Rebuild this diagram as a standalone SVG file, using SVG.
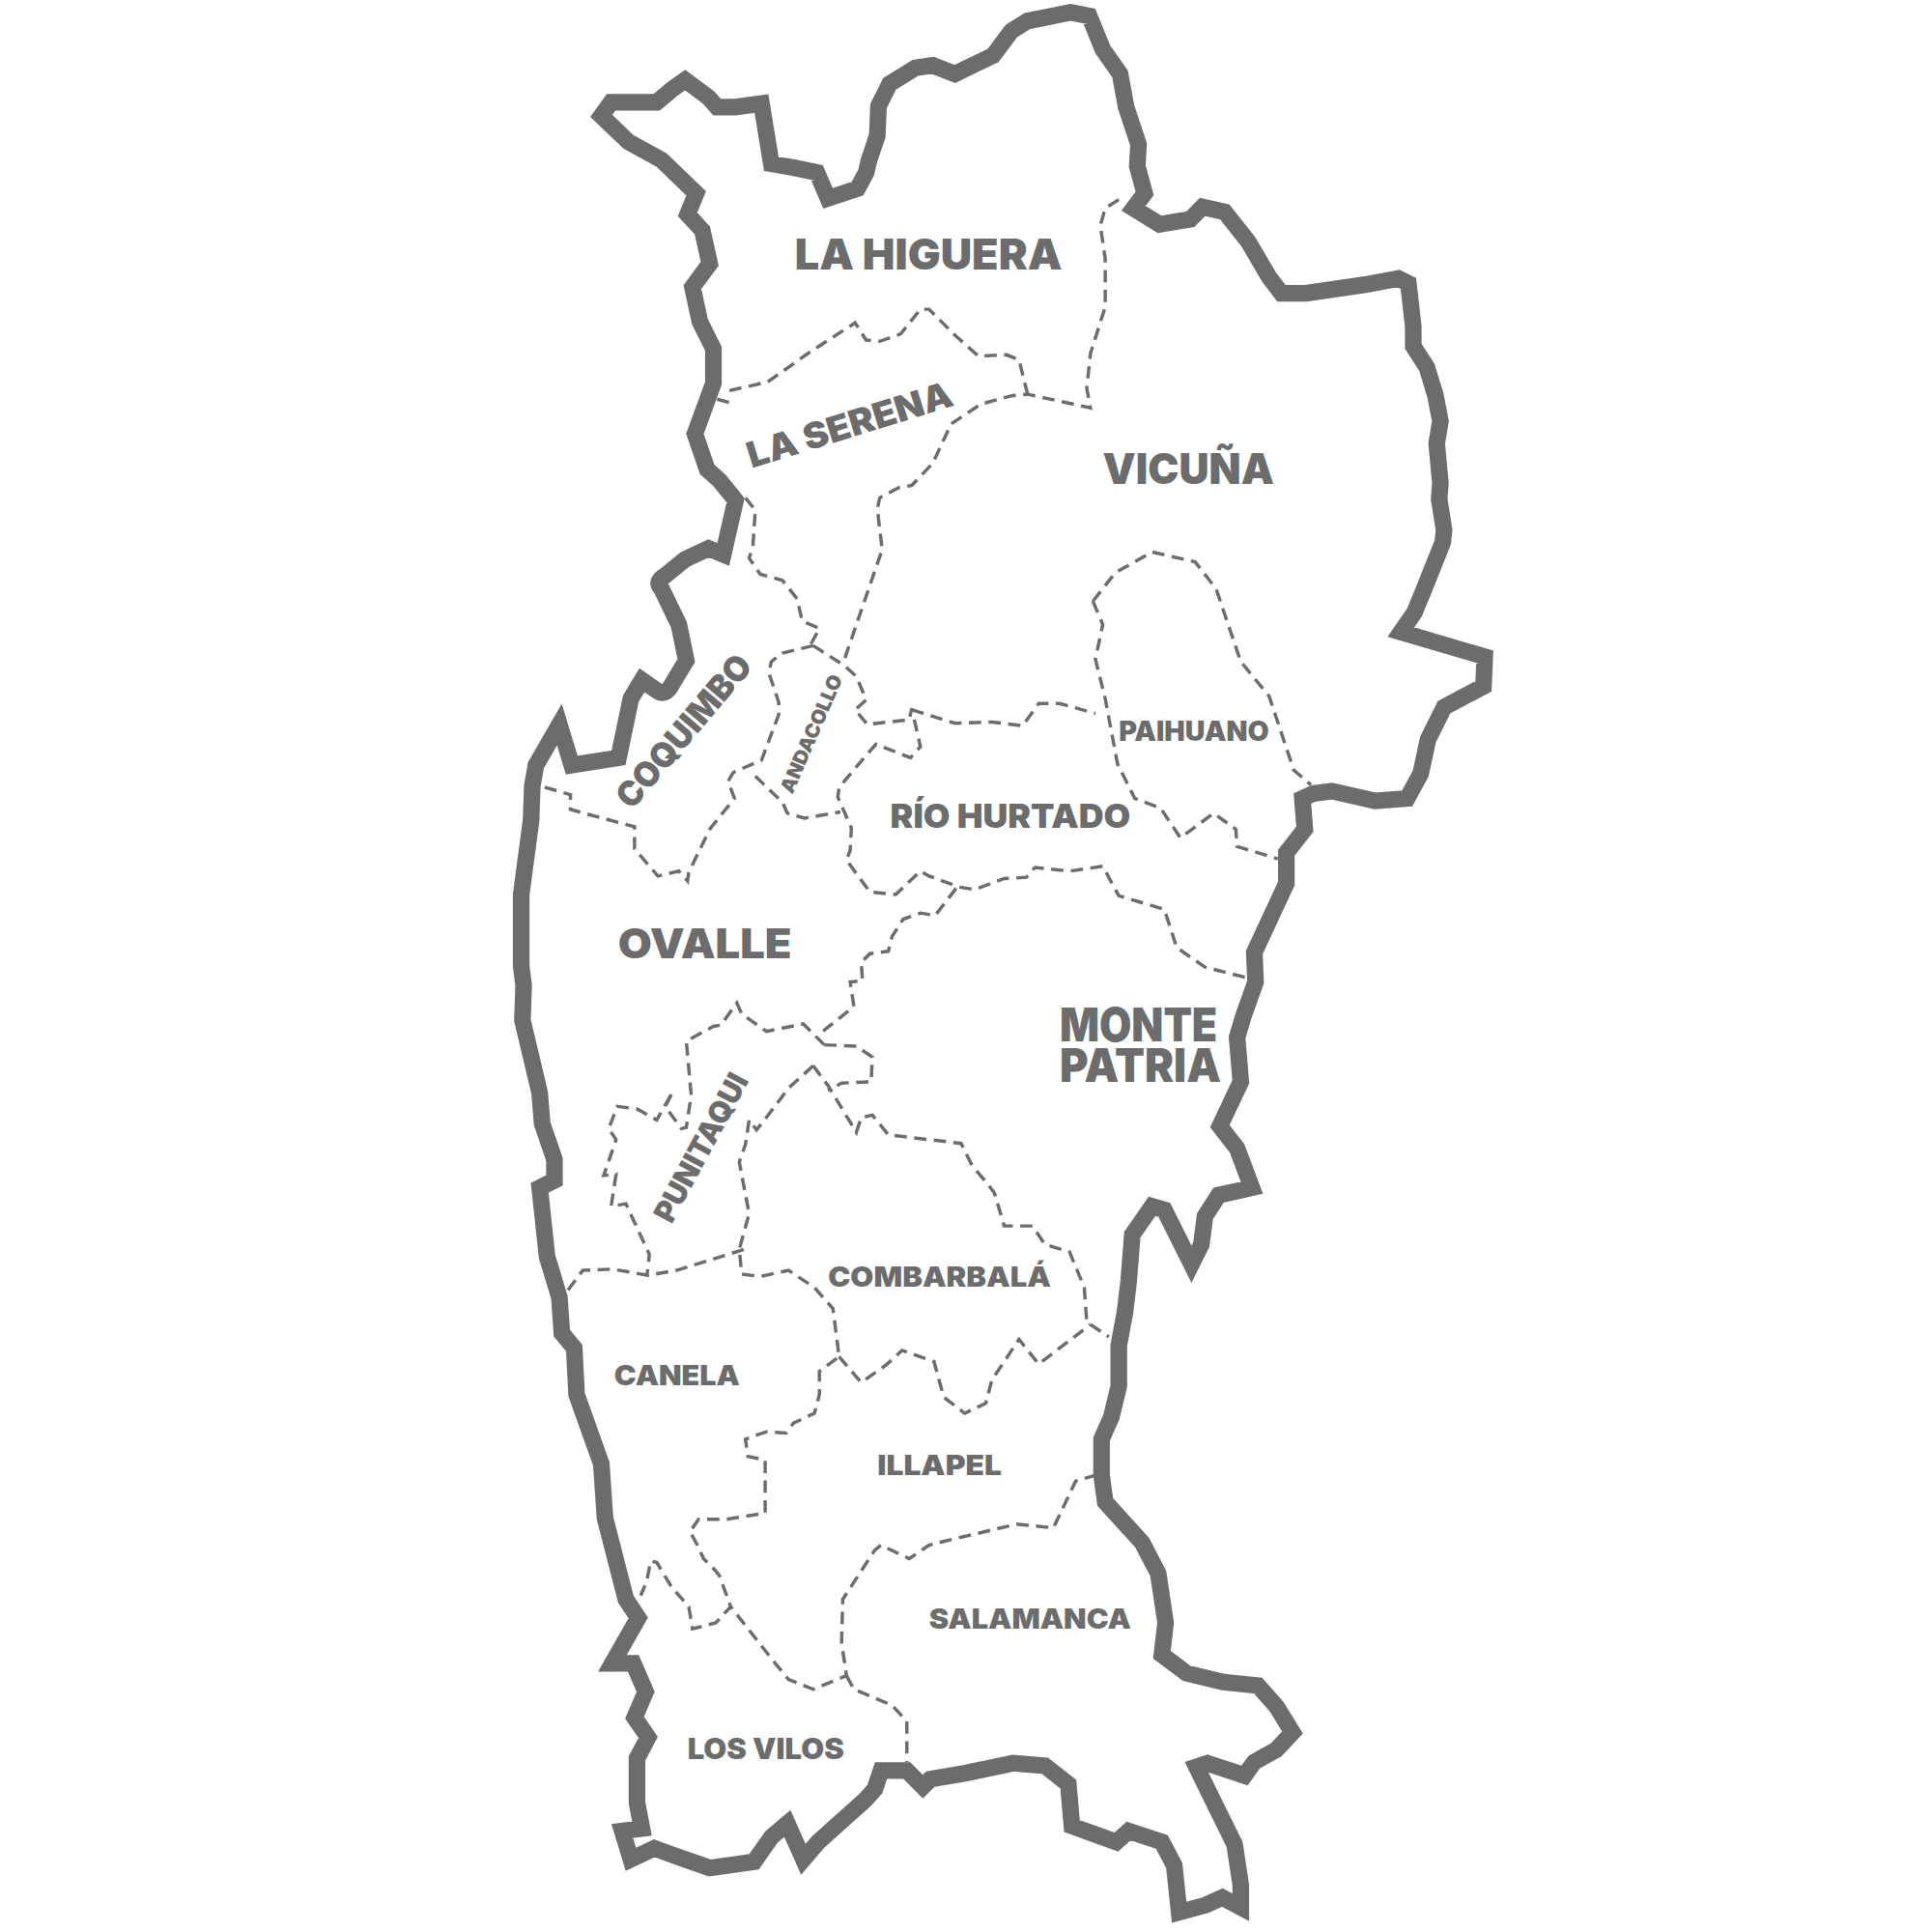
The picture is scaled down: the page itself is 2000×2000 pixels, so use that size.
<svg xmlns="http://www.w3.org/2000/svg" width="2000" height="2000" viewBox="0 0 2000 2000">
<style>
.o{fill:none;stroke:#6c6c6c;stroke-width:13.5;stroke-miterlimit:8}
.d{fill:none;stroke:#6c6c6c;stroke-width:2.7;stroke-dasharray:10 6}
text{font-family:Inter,"Liberation Sans",sans-serif;font-weight:900;fill:#6c6c6c}
</style>
<rect width="2000" height="2000" fill="#fff"/>
<g transform="scale(1.27551)">
<g id="limits">
<path class="d" d="M582 324L593 327M592 317L623 310L657 286L694 262L703 276L714 277L731 271L747 251L754 251L775 272L794 289L817 288L827 292L834 320"/>
<path class="d" d="M908 162L897 169L893 183L897 210L897 249L885 287L882 315L885 331L834 320L822 321L796 328L772 344L757 376L740 394L729 396L714 404L712 413L716 446L684 539"/>
<path class="d" d="M605 404L613 414L611 444L608 453L617 466L635 471L647 486L651 504L665 510L658 523"/>
<path class="d" d="M660 524L635 530L626 537L624 546L632 570L632 580L618 617L595 627L591 634L596 648L576 673L559 708L558 715L551 707L534 711L515 689L515 671L463 657L463 645L439 638"/>
<path class="d" d="M660 524L685 540L695 549L703 568L694 576L704 588L738 584L740 575L747 606L739 615L711 604L703 613L681 639L680 647L691 672L690 690L687 698L706 724L727 726L747 707L754 711L779 720L791 722L815 713L833 712L840 704L868 707L895 703L908 727L945 738L955 769L978 785L1018 795"/>
<path class="d" d="M613 630L635 651L639 660L653 664L682 659"/>
<path class="d" d="M740 576L775 587L805 586L830 589L843 571L860 571L889 579"/>
<path class="d" d="M887 488L895 507L889 535L897 567L907 620L921 648L942 656L958 680L985 660L1003 673L1004 687L1037 697"/>
<path class="d" d="M887 488L905 465L935 448L970 456L987 478L1007 537L1030 565L1050 625L1064 637"/>
<path class="d" d="M776 721L759 743L747 741L733 746L724 760L721 772L706 774L699 781L700 796L690 797L693 817L664 840"/>
<path class="d" d="M669 848L660 839L652 831L622 837L602 823L598 814L585 832L579 833L557 845L561 889L557 915L553 916L540 898L546 886L533 909L517 900L501 898L494 916L500 925L490 954L500 953L496 979L508 977L527 1018L525 1036"/>
<path class="d" d="M461 1047L473 1031L497 1030L526 1035L549 1031L604 1014"/>
<path class="d" d="M660 865L640 883L625 903L614 917L608 909L605 929L600 943L608 985L600 1014L602 1034L617 1036L640 1031L661 1045L676 1062L681 1101L665 1113L665 1132L661 1147L644 1155L638 1163L622 1162L605 1168L607 1182L621 1185L621 1228L590 1233L567 1233L560 1243L566 1254L571 1265L580 1274L584 1279L593 1304"/>
<path class="d" d="M669 848L695 849L708 858L707 878L683 879L672 885M660 865L672 881L695 919L699 907L708 905L721 921L780 928L789 946L800 959L807 968L815 995L838 995L848 1010L868 1016L880 1045L882 1073L900 1085"/>
<path class="d" d="M681 1101L699 1122L719 1108L732 1096L758 1105L766 1134L783 1147L800 1139L805 1120L827 1087L843 1107L885 1075"/>
<path class="d" d="M890 1197L873 1202L855 1240L825 1237L770 1250L754 1254L738 1265L715 1254L710 1258L684 1298L683 1333L687 1360L660 1371L640 1363L630 1351L593 1304L581 1317L562 1322L559 1304L545 1288L533 1268L528 1267L525 1283L520 1295"/>
<path class="d" d="M687 1360L693 1371L724 1384L736 1397L736 1430"/>
</g>
<path id="border" class="o" d="M488 94L496 83L533 83L546 72L556 65L575 79L582 87L596 87L618 84L626 133L644 136L663 140L672 161L696 153L703 140L705 131L712 110L713 86L722 68L743 55L757 53L775 60L806 45L821 25L834 17L869 10L884 13L895 40L909 60L914 87L924 117L923 135L929 157L920 169L941 182L966 178L976 168L994 172L1013 196L1030 225L1040 238L1060 238L1108 231L1135 226L1143 230L1147 265L1147 281L1158 298L1165 321L1169 342L1166 360L1169 392L1168 405L1172 430L1171 440L1155 480L1148 497L1137 513L1205 533L1204 557L1172 574L1159 600L1153 628L1142 648L1116 650L1081 642L1066 644L1057 648L1059 673L1044 692L1044 717L1018 773L1019 797L1009 825L1004 842L1007 878L990 914L1004 932L1016 964L989 970L978 987L975 1010L967 1026L945 982L935 979L919 1002L916 1040L913 1065L908 1092L908 1125L902 1150L894 1168L894 1197L897 1219L927 1252L940 1277L946 1317L943 1343L963 1358L992 1365L1021 1368L1036 1385L1049 1406L1036 1420L1018 1430L1010 1441L980 1431L971 1434L1002 1497L1007 1530L1007 1548L992 1540L979 1546L957 1552L953 1514L943 1495L916 1486L906 1495L870 1482L867 1448L848 1433L822 1431L784 1439L755 1444L749 1450L736 1437L715 1437L710 1452L702 1461L664 1495L652 1509L639 1480L626 1491L612 1511L576 1516L550 1507L531 1500L512 1509L505 1486L521 1484L517 1463L517 1427L526 1410L515 1394L524 1373L514 1350L497 1350L518 1313L508 1298L491 1232L488 1188L468 1132L466 1094L456 1082L454 1053L444 1020L438 964L450 958L450 941L440 912L438 887L424 828L425 800L423 784L423 726L431 666L432 638L435 621L454 588L464 621L502 615L512 567L521 552L534 561Q540 565 545 556L557 536L551 507L537 478Q531 472 540 467L556 454L575 445L587 450L597 406L584 390L574 381L564 352L579 311L579 283L568 261L562 233L576 214L570 187L558 174L565 157L537 130L510 115Z"/>
<g id="labels">
<text x="645" y="219" font-size="34.5" textLength="217" lengthAdjust="spacingAndGlyphs">LA HIGUERA</text>
<text x="895" y="393" font-size="34.5" textLength="139" lengthAdjust="spacingAndGlyphs">VICUÑA</text>
<text transform="translate(610 380) rotate(-17.2)" font-size="29" textLength="173" lengthAdjust="spacingAndGlyphs">LA SERENA</text>
<text x="908" y="601" font-size="22" textLength="122" lengthAdjust="spacingAndGlyphs">PAIHUANO</text>
<text x="722.5" y="672" font-size="27" textLength="195" lengthAdjust="spacingAndGlyphs">RÍO HURTADO</text>
<text x="501.5" y="777.5" font-size="33" textLength="141" lengthAdjust="spacingAndGlyphs">OVALLE</text>
<text x="860" y="845" font-size="38" textLength="128" lengthAdjust="spacingAndGlyphs">MONTE</text>
<text x="860" y="878" font-size="38" textLength="131" lengthAdjust="spacingAndGlyphs">PATRIA</text>
<text x="672" y="1044.5" font-size="22.5" textLength="181" lengthAdjust="spacingAndGlyphs">COMBARBALÁ</text>
<text x="498.5" y="1124" font-size="22.5" textLength="102" lengthAdjust="spacingAndGlyphs">CANELA</text>
<text x="712" y="1197" font-size="22.5" textLength="101" lengthAdjust="spacingAndGlyphs">ILLAPEL</text>
<text x="754" y="1322" font-size="22.5" textLength="164" lengthAdjust="spacingAndGlyphs">SALAMANCA</text>
<text x="558" y="1428" font-size="23.5" textLength="127" lengthAdjust="spacingAndGlyphs">LOS VILOS</text>
<text transform="translate(513 658) rotate(-49.7)" font-size="28" textLength="153" lengthAdjust="spacingAndGlyphs">COQUIMBO</text>
<text transform="translate(643 645) rotate(-66.4)" font-size="16" textLength="103" lengthAdjust="spacingAndGlyphs">ANDACOLLO</text>
<text transform="translate(545 994) rotate(-61.7)" font-size="24.5" textLength="133" lengthAdjust="spacingAndGlyphs">PUNITAQUI</text>
</g>
</g>
</svg>
